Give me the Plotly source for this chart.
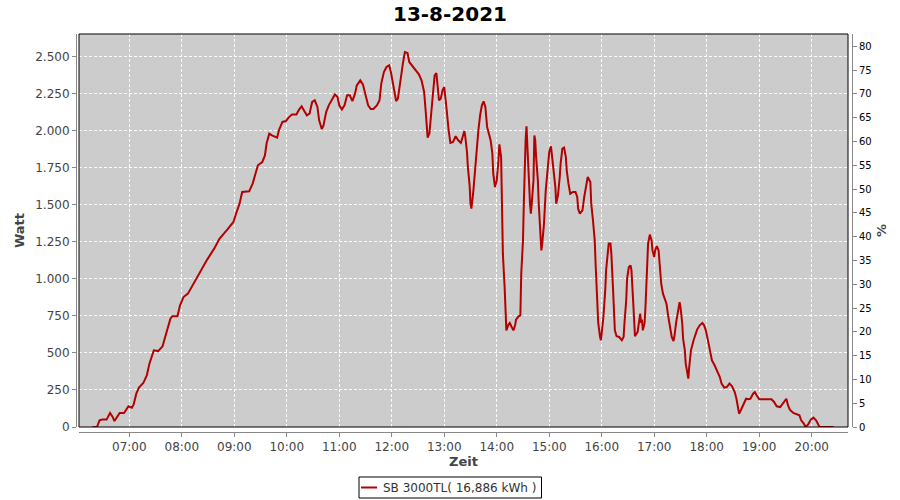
import plotly.graph_objects as go

DAY = "2021-08-13"
times = ["06:18","06:23","06:26","06:29","06:34","06:38","06:41","06:43","06:46","06:49","06:54","06:59",
"07:03","07:05","07:08","07:11","07:16","07:20","07:23","07:26","07:28","07:33","07:38","07:41","07:44","07:47","07:49","07:55","07:58",
"08:02","08:07","08:14","08:21","08:29","08:37","08:43","08:52","08:59",
"09:02","09:06","09:09","09:17","09:21","09:24","09:27","09:32","09:35","09:37","09:40","09:43","09:46","09:49","09:51","09:55","09:59",
"10:02","10:06","10:11","10:14","10:17","10:20","10:23","10:26","10:29","10:32","10:35","10:37","10:40","10:42","10:45","10:48","10:52","10:55","10:58",
"11:00","11:03","11:06","11:09","11:12","11:15","11:18","11:20","11:24","11:27","11:30","11:33","11:36","11:39","11:43","11:46","11:48","11:51","11:54","11:57","11:59",
"12:02","12:05","12:07","12:10","12:13","12:15","12:18","12:20","12:23","12:27","12:31","12:34","12:37","12:39","12:40","12:41","12:43","12:45","12:47","12:49","12:51","12:52","12:54","12:56","12:58",
"13:00","13:02","13:03","13:05","13:07","13:10","13:13","13:16","13:19","13:21","13:23","13:24","13:26","13:27","13:29","13:30","13:31","13:33","13:35","13:37","13:39","13:41","13:43","13:45","13:47","13:49","13:51","13:53","13:55","13:56","13:58",
"14:00","14:02","14:03","14:05","14:06","14:07","14:09","14:10","14:11","14:13","14:15","14:17","14:19","14:21","14:22","14:25","14:27","14:28","14:30","14:31","14:32","14:33","14:34","14:36","14:37","14:38","14:39","14:40","14:42","14:43","14:44","14:45","14:47","14:48","14:50","14:51","14:52","14:54","14:56","14:58",
"15:00","15:02","15:03","15:05","15:07","15:08","15:10","15:12","15:13","15:15","15:17","15:19","15:20","15:22","15:24","15:27","15:30","15:32","15:33","15:35","15:38","15:40","15:42","15:44","15:47","15:48","15:50","15:52","15:53","15:55","15:56","15:58","15:59",
"16:00","16:02","16:04","16:05","16:07","16:08","16:10","16:11","16:13","16:14","16:15","16:17","16:20","16:23","16:25","16:26","16:28","16:29","16:31","16:33","16:34","16:36","16:37","16:38","16:41","16:43","16:44","16:45","16:46","16:47","16:49","16:50","16:52","16:53","16:55","16:57","16:58",
"17:00","17:01","17:03","17:05","17:06","17:08","17:10","17:12","17:14","17:16","17:18","17:20","17:22","17:23","17:25","17:27","17:29","17:30","17:32","17:33","17:35","17:36","17:38","17:39","17:40","17:42","17:45","17:47","17:49","17:52","17:55","17:57","17:59",
"18:01","18:04","18:06","18:09","18:11","18:15","18:17","18:20","18:23","18:26","18:29","18:32","18:34","18:36","18:37","18:39","18:42","18:45","18:48","18:50","18:53","18:55","18:57",
"19:00","19:04","19:09","19:14","19:17","19:20","19:24","19:26","19:29","19:31","19:33","19:35","19:39","19:42","19:46","19:48","19:51","19:53","19:56","19:59",
"20:02","20:05","20:07","20:09","20:25"]
watts = [0,0,45,50,50,95,68,40,68,95,95,140,
130,153,225,266,297,349,428,484,518,513,545,608,664,732,748,748,822,
878,901,973,1054,1131,1205,1272,1333,1385,
1441,1509,1588,1592,1644,1705,1768,1790,1835,1919,1982,1970,1964,1955,2004,2061,2067,
2090,2112,2112,2144,2166,2135,2106,2117,2196,2207,2162,2072,2013,2038,2128,2173,2218,2247,2229,
2173,2146,2173,2241,2241,2202,2252,2308,2342,2315,2252,2173,2148,2148,2173,2207,2320,2398,2432,2443,2398,
2286,2202,2218,2353,2466,2533,2526,2466,2443,2414,2383,2342,2263,2117,1982,1955,1982,2117,2286,2376,2391,2320,2207,2218,2274,
2297,2207,2128,2004,1919,1925,1964,1937,1919,1959,2000,1964,1858,1756,1633,1509,1475,1576,1734,1847,2004,2106,2173,2200,2162,2027,1982,1937,1847,1712,1621,
1666,1802,1910,1824,1441,1171,946,766,653,687,703,676,653,687,725,748,754,1036,1261,1520,1779,1937,2031,1824,1644,1509,1441,1509,1666,1970,1937,1824,1666,1509,1329,1193,1239,1374,1599,1734,
1858,1896,1847,1734,1621,1509,1565,1689,1779,1880,1887,1824,1734,1644,1576,1588,1588,1554,1475,1441,1464,1554,1639,1689,1655,1509,1396,1261,1103,878,703,613,586,
636,748,923,1058,1182,1239,1239,1171,923,766,653,613,608,586,608,703,856,1002,1081,1092,1058,842,703,613,642,748,766,703,725,653,703,811,1058,1239,1300,1261,1193,
1149,1193,1221,1193,1103,968,901,867,833,748,676,608,581,608,703,788,844,811,703,597,518,428,349,327,405,518,586,631,658,687,703,687,653,
597,507,450,417,387,338,293,266,270,293,275,236,191,113,90,113,158,191,187,191,225,236,214,
187,187,187,187,169,140,135,153,180,191,146,117,95,90,79,45,23,0,18,50,
63,45,18,0,0]

series_name = "SB 3000TL( 16,886 kWh )"
title_text = "13-8-2021"
watt_ticks = [0, 250, 500, 750, 1000, 1250, 1500, 1750, 2000, 2250, 2500]
watt_labels = ["0", "250", "500", "750", "1.000", "1.250", "1.500", "1.750", "2.000", "2.250", "2.500"]

x = [f"{DAY} {t}" for t in times]
LINE_COLOR = "#b40000"

fig = go.Figure()
fig.add_trace(go.Scatter(x=x, y=watts, mode="lines", name=series_name, showlegend=False,
                         line=dict(color=LINE_COLOR, width=2)))
# empty trace so the % axis is drawn
fig.add_trace(go.Scatter(x=[], y=[], yaxis="y2", showlegend=False, hoverinfo="skip"))

FONT = "DejaVu Sans"
# paper area in pixels: x 76..852, y 34..432
PL, PR, PT, PB = 76.0, 852.0, 34.0, 432.0
W_PAPER = PR - PL
H_PAPER = PB - PT


def px(v):
    return (v - PL) / W_PAPER


def py(v):
    return (PB - v) / H_PAPER


fig.update_layout(
    width=900, height=500,
    margin=dict(l=76, r=48, t=34, b=68, pad=0, autoexpand=False),
    paper_bgcolor="white",
    plot_bgcolor="#cccccc",
    font=dict(family=FONT, size=12, color="#444444"),
    title=dict(text=f"<b>{title_text}</b>", x=0.5, xanchor="center", y=0.972, yanchor="middle",
               font=dict(family=FONT, size=20, color="black")),
    showlegend=False,
    xaxis=dict(
        type="date",
        domain=[px(79), px(848)],
        range=[f"{DAY} 06:02:30", f"{DAY} 20:41:30"],
        anchor="free", position=0, automargin=False,
        tickformat="%H:%M", dtick=3600000, tick0=f"{DAY} 07:00",
        showgrid=True, gridcolor="white", griddash="3px,2px", gridwidth=1,
        showline=True, linecolor="#888888", linewidth=1,
        ticks="outside", ticklen=4, tickcolor="#888888",
        tickfont=dict(family=FONT, size=12, color="#444444"),
        title=dict(text="<b>Zeit</b>", font=dict(family=FONT, size=13, color="#444444"), standoff=3),
        zeroline=False,
    ),
    yaxis=dict(
        domain=[py(427), 1],
        range=[0, 2655],
        anchor="free", position=0, automargin=False,
        tickvals=watt_ticks, ticktext=watt_labels,
        showgrid=True, gridcolor="white", griddash="3px,2px", gridwidth=1,
        showline=True, linecolor="#888888", linewidth=1,
        ticks="outside", ticklen=4, tickcolor="#888888",
        tickfont=dict(family=FONT, size=12, color="#444444"),
        title=dict(text="<b>Watt</b>", font=dict(family=FONT, size=13, color="#444444"), standoff=6),
        zeroline=False,
    ),
    yaxis2=dict(
        overlaying="y", side="right", anchor="free", position=1, automargin=False,
        range=[0, 82.6], dtick=5, tick0=0,
        showgrid=False, zeroline=False,
        showline=True, linecolor="#888888", linewidth=1,
        ticks="outside", ticklen=4, tickcolor="#888888",
        tickfont=dict(family=FONT, size=10, color="black"),
        title=dict(text="<b>%</b>", font=dict(family=FONT, size=13, color="#444444"), standoff=6),
    ),
    shapes=[
        dict(type="rect", xref="x domain", yref="y domain", x0=0, x1=1, y0=0, y1=1,
             line=dict(color="black", width=1), fillcolor="rgba(0,0,0,0)", layer="above"),
        # legend box
        dict(type="rect", xref="paper", yref="paper", x0=px(359), x1=px(541.5), y0=py(498), y1=py(477),
             line=dict(color="black", width=1), fillcolor="white"),
        # legend sample line
        dict(type="line", xref="paper", yref="paper", x0=px(361), x1=px(377), y0=py(487.5), y1=py(487.5),
             line=dict(color=LINE_COLOR, width=2)),
    ],
    annotations=[
        dict(text=series_name, xref="paper", yref="paper", x=px(381), y=py(487.5),
             xanchor="left", yanchor="middle", showarrow=False,
             font=dict(family=FONT, size=12, color="#333333")),
    ],
)

fig.write_html("out.html", config={"displayModeBar": False},
               post_script="document.body.style.margin='0px';")
